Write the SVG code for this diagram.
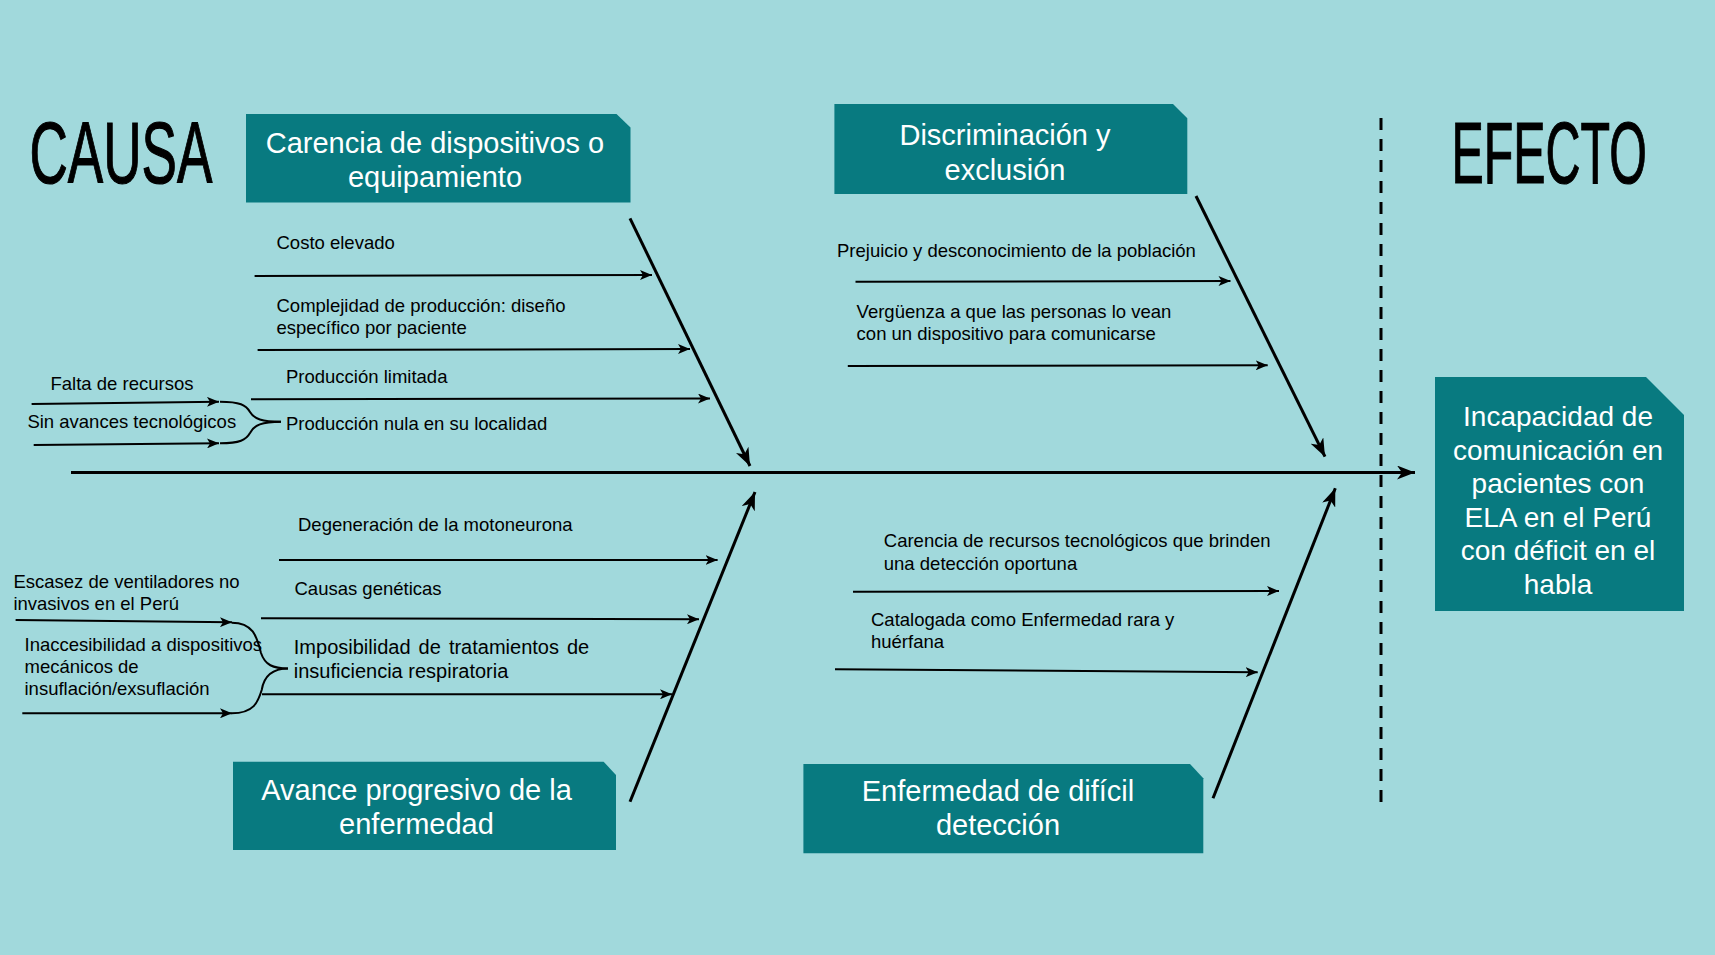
<svg xmlns="http://www.w3.org/2000/svg" width="1715" height="955" viewBox="0 0 1715 955">
<defs>
<style>
.box{fill:#087a80}
.bt{font-family:"Liberation Sans",Arial,sans-serif;font-size:29px;fill:#ffffff;text-anchor:middle}
.et{font-family:"Liberation Sans",Arial,sans-serif;font-size:28px;fill:#ffffff;text-anchor:middle}
.lbl{font-family:"Liberation Sans",Arial,sans-serif;font-size:18.5px;fill:#000000}
.big{font-family:"Liberation Sans",Arial,sans-serif;font-size:88px;font-weight:normal;fill:#000000;stroke:#000000;stroke-width:1.2}
.sub{stroke:#000;stroke-width:2;fill:none;marker-end:url(#sm)}
.bone{stroke:#000;stroke-width:3;fill:none;marker-end:url(#bm)}
.brace{stroke:#000;stroke-width:2;fill:none}
</style>
<marker id="sm" viewBox="0 0 12 10" refX="12" refY="5" markerWidth="12" markerHeight="10" markerUnits="userSpaceOnUse" orient="auto">
<path d="M0,0 L12,5 L0,10 L3,5 Z" fill="#000"/>
</marker>
<marker id="bm" viewBox="0 0 18 14" refX="18" refY="7" markerWidth="18" markerHeight="14" markerUnits="userSpaceOnUse" orient="auto">
<path d="M0,0 L18,7 L0,14 L5,7 Z" fill="#000"/>
</marker>
</defs>
<rect x="0" y="0" width="1715" height="955" fill="#a1d9dc"/>

<g id="title-causa"><text class="big" transform="translate(29.5,183) scale(0.603,1)" x="0" y="0">CAUSA</text></g>
<g id="title-efecto"><text class="big" transform="translate(1451.5,183) scale(0.55,1)" x="0" y="0">EFECTO</text></g>

<g id="connectors">
<line x1="71" y1="472.5" x2="1415" y2="472.5" stroke="#000" stroke-width="3" marker-end="url(#bm)"/>
<line x1="1381" y1="118" x2="1381" y2="802" stroke="#000" stroke-width="3" stroke-dasharray="12 9"/>
<line class="bone" x1="630" y1="218.3" x2="750" y2="466"/>
<line class="bone" x1="630" y1="801.7" x2="755" y2="492"/>
<line class="bone" x1="1196" y1="196" x2="1325" y2="456.7"/>
<line class="bone" x1="1213" y1="798.3" x2="1335.3" y2="488.3"/>
<line class="sub" x1="254.6" y1="276" x2="652" y2="275"/>
<line class="sub" x1="257.6" y1="350" x2="690" y2="349"/>
<line class="sub" x1="251" y1="399.3" x2="710" y2="398.5"/>
<line class="sub" x1="31.6" y1="404" x2="219" y2="401.7"/>
<line class="sub" x1="33.7" y1="445" x2="219" y2="443.3"/>
<line class="sub" x1="279" y1="560" x2="717.6" y2="560"/>
<line class="sub" x1="261" y1="618.3" x2="699" y2="619.3"/>
<line class="sub" x1="262" y1="694.3" x2="672" y2="694.3"/>
<line class="sub" x1="15.6" y1="620" x2="232" y2="622.3"/>
<line class="sub" x1="22.3" y1="713.3" x2="232" y2="713.3"/>
<line class="sub" x1="855.5" y1="281.7" x2="1230.5" y2="281"/>
<line class="sub" x1="847.8" y1="366" x2="1267.7" y2="365.3"/>
<line class="sub" x1="853" y1="591.7" x2="1279" y2="591"/>
<line class="sub" x1="835" y1="669.3" x2="1257.7" y2="672.3"/>
<path class="brace" d="M220,401.7 C240,401.7 246,405 250,412 C254,419 262,421.7 281,421.7"/>
<path class="brace" d="M220,443.3 C240,443.3 246,440 250,433 C254,425 262,421.7 281,421.7"/>
<path class="brace" d="M231.7,622.7 C254,622.7 257,638 261,653 C265,665 273,668.5 288,668.5"/>
<path class="brace" d="M231.7,713.3 C254,713.3 258,702 261.7,690 C264,676 272,668.5 288,668.5"/>
</g>

<g id="node-carencia">
<path class="box" d="M246,114 H616.5 L630.5,127.5 V202.5 H246 Z"/>
<text class="bt" x="435" y="153">Carencia de dispositivos o</text>
<text class="bt" x="435" y="187">equipamiento</text>
</g>
<g id="node-discriminacion">
<path class="box" d="M834.4,104 H1173 L1187.3,118.3 V194 H834.4 Z"/>
<text class="bt" x="1005" y="145">Discriminación y</text>
<text class="bt" x="1005" y="180">exclusión</text>
</g>
<g id="node-avance">
<path class="box" d="M233,761.7 H603.6 L616,775 V850 H233 Z"/>
<text class="bt" x="416.5" y="800">Avance progresivo de la</text>
<text class="bt" x="416.5" y="834">enfermedad</text>
</g>
<g id="node-deteccion">
<path class="box" d="M803.4,764 H1190 L1203.3,778.3 V853.3 H803.4 Z"/>
<text class="bt" x="998" y="801">Enfermedad de difícil</text>
<text class="bt" x="998" y="835">detección</text>
</g>
<g id="node-efecto">
<path class="box" d="M1435,377 H1646 L1684,415 V611 H1435 Z"/>
<text class="et" x="1558" y="426">Incapacidad de</text>
<text class="et" x="1558" y="459.5">comunicación en</text>
<text class="et" x="1558" y="493">pacientes con</text>
<text class="et" x="1558" y="526.5">ELA en el Perú</text>
<text class="et" x="1558" y="560">con déficit en el</text>
<text class="et" x="1558" y="593.5">habla</text>
</g>

<g id="labels-carencia">
<text class="lbl" x="276.5" y="249">Costo elevado</text>
<text class="lbl" x="276.5" y="311.5">Complejidad de producción: diseño</text>
<text class="lbl" x="276.5" y="333.5">específico por paciente</text>
<text class="lbl" x="286" y="383">Producción limitada</text>
<text class="lbl" x="286" y="429.5">Producción nula en su localidad</text>
<text class="lbl" x="50.5" y="389.5">Falta de recursos</text>
<text class="lbl" x="27.4" y="427.5">Sin avances tecnológicos</text>
</g>
<g id="labels-avance">
<text class="lbl" x="298" y="530.5">Degeneración de la motoneurona</text>
<text class="lbl" x="294.5" y="594.5">Causas genéticas</text>
<text class="lbl" x="293.8" y="654.3" style="font-size:20px;word-spacing:2.5px">Imposibilidad de tratamientos de</text>
<text class="lbl" x="293.8" y="678" style="font-size:20px">insuficiencia respiratoria</text>
<text class="lbl" x="13.4" y="588.3">Escasez de ventiladores no</text>
<text class="lbl" x="13.4" y="610">invasivos en el Perú</text>
<text class="lbl" x="24.5" y="651">Inaccesibilidad a dispositivos</text>
<text class="lbl" x="24.5" y="672.7">mecánicos de</text>
<text class="lbl" x="24.5" y="694.5">insuflación/exsuflación</text>
</g>
<g id="labels-discriminacion">
<text class="lbl" x="837" y="257">Prejuicio y desconocimiento de la población</text>
<text class="lbl" x="856.6" y="318.3">Vergüenza a que las personas lo vean</text>
<text class="lbl" x="856.6" y="340">con un dispositivo para comunicarse</text>
</g>
<g id="labels-deteccion">
<text class="lbl" x="883.8" y="547.3">Carencia de recursos tecnológicos que brinden</text>
<text class="lbl" x="883.8" y="570">una detección oportuna</text>
<text class="lbl" x="871" y="625.7">Catalogada como Enfermedad rara y</text>
<text class="lbl" x="871" y="647.5">huérfana</text>
</g>
</svg>
